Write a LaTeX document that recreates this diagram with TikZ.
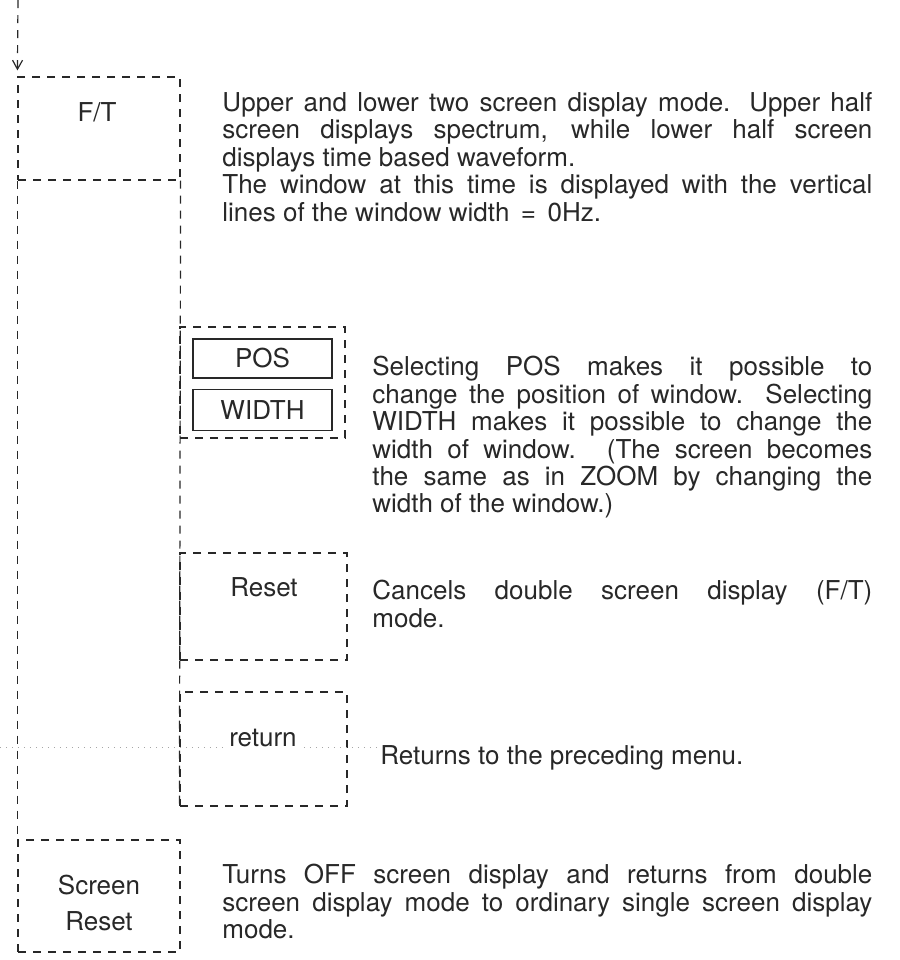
\documentclass[tikz,border=0pt]{standalone}
\usepackage{fontspec}
\setmainfont{TeX Gyre Heros}
\usetikzlibrary{arrows.meta,positioning}
\definecolor{inkgray}{RGB}{40,40,40}

\begin{document}
\begin{tikzpicture}[
  x=0.5pt, y=-0.5pt,
  font=\fontsize{13}{13.7}\selectfont, text=inkgray,
  dbox/.style={draw=inkgray, dash pattern=on 4pt off 3.5pt, line width=0.6pt,
               minimum width=81pt, inner sep=0pt},
  sbox/.style={draw=inkgray, line width=0.8pt, minimum width=69.5pt, inner sep=0pt},
  desc/.style={anchor=north west, inner sep=0pt, align=justify},
  dline/.style={draw=inkgray, dash pattern=on 4pt off 3.5pt, line width=0.6pt},
  fold/.style={draw=gray!70, line width=0.4pt, dash pattern=on 0.6pt off 2.4pt}
]
\useasboundingbox (0,0) rectangle (900,960);

% menu keys
\node[dbox, minimum height=51.5pt] (ft) at (99,128.5) {};
\node[dbox, minimum width=82.5pt, minimum height=55.5pt] (grp) at (262.5,382.5) {};
\node[sbox, minimum height=19.5pt] (pos) at (262.5,358.5) {POS};
\node[sbox, minimum height=20.5pt, below=5pt of pos] (wid) {WIDTH};
\node[dbox, minimum width=83.5pt, minimum height=53.5pt] (rst) at (263.5,606.5) {};
\node[dbox, minimum width=83.5pt, minimum height=57pt] (ret) at (263.5,749) {};
\node[dbox, minimum height=56pt] (sr) at (99,896) {};

% key labels
\node (ftl) at (97,112) {F/T};
\node (rstl) at (264,587) {Reset};
\node (retl) at (263,738) {return};
\node[align=center] (srl) at (99,903) {Screen\\[4.3pt]Reset};

% descriptions
\node[desc, text width=325pt] (p1) at (222,92)
  {Upper and lower two screen display mode. Upper half\linebreak
   screen displays spectrum, while lower half screen\linebreak
   displays time based waveform.\\
   The window at this time is displayed with the vertical\linebreak
   lines of the window width \,=\, 0Hz.};
\node[desc, text width=250pt] (p2) at (372,356)
  {Selecting POS makes it possible to\linebreak
   change the position of window. Selecting\linebreak
   WIDTH makes it possible to change the\linebreak
   width of window. (The screen becomes\linebreak
   the same as in ZOOM by changing the\linebreak
   width of the window.)};
\node[desc, text width=250pt] (p3) at (372,580)
  {Cancels double screen display (F/T)\linebreak mode.};
\node[anchor=north west, inner sep=0pt] (p4) at (380,745) {Returns to the preceding menu.};
\node[desc, text width=325pt] (p5) at (222,864)
  {Turns OFF screen display and returns from double\linebreak
   screen display mode to ordinary single screen display\linebreak
   mode.};

% flow lines
\coordinate (top) at (18,0);
\draw[dline, -{Straight Barb[length=4.5pt,width=5pt]}, shorten >=3pt] (top) -- (ft.north west);
\draw[dline] (ft.south west) -- (sr.north west);
\draw[dline] (ft.south east) -- (ret.south west);

% faint leader
\coordinate (lead) at (0,747);
\draw[fold] (lead) -- (lead -| retl.west);
\draw[fold] (lead -| retl.east) -- (lead -| p4.west);
\end{tikzpicture}
\end{document}
